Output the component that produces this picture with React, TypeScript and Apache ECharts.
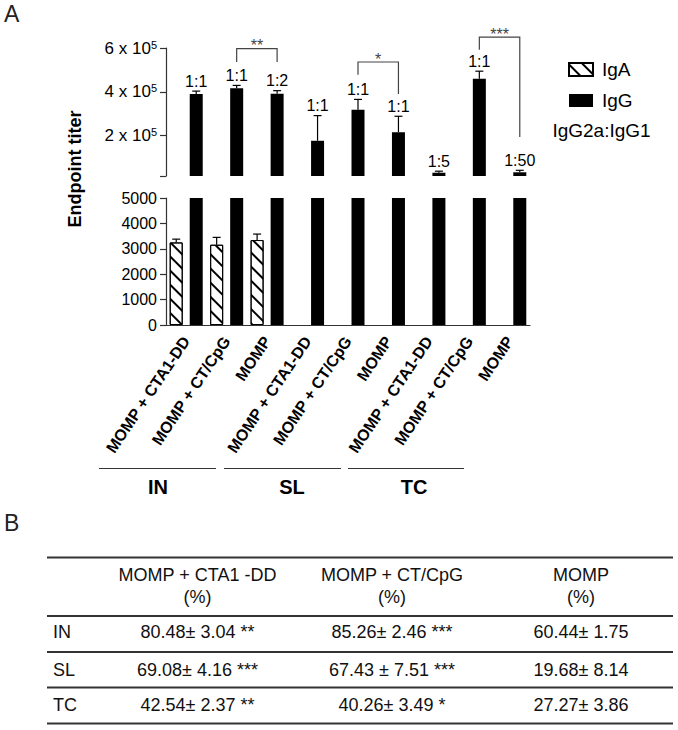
import React, { useEffect, useRef } from "react";
import * as echarts from "echarts";

// ---------- data ----------
const categories = [
  "MOMP + CTA1-DD", "MOMP + CT/CpG", "MOMP",
  "MOMP + CTA1-DD", "MOMP + CT/CpG", "MOMP",
  "MOMP + CTA1-DD", "MOMP + CT/CpG", "MOMP",
];
const groups = ["IN", "SL", "TC"];
const igaMean: (number | null)[] = [3250, 3160, 3345, null, null, null, null, null, null];
const igaErr: (number | null)[] = [130, 290, 235, null, null, null, null, null, null];
const iggMean = [390000, 416000, 391000, 176000, 318000, 215000, 30000, 459000, 32000];
const iggErr = [13000, 13000, 14000, 115000, 47000, 73000, 7000, 35000, 9000];
const ratioLabels = ["1:1", "1:1", "1:2", "1:1", "1:1", "1:1", "1:5", "1:1", "1:50"];
const bracketFrom = [1, 4, 7];
const bracketTo = [2, 5, 8];
const bracketTop = [597000, 536000, 650000];
const bracketLegFrom = [536000, 478000, 592000];
const bracketLegTo = [536000, 390000, 193000];
const bracketMarks = ["**", "*", "***"];
const upperTickValues = [15000, 200000, 400000, 600000];
const upperLabelValues = [200000, 400000, 600000];
const lowerMax = 5000;
const lowerInterval = 1000;
const tableColumns = ["MOMP + CTA1 -DD", "MOMP + CT/CpG", "MOMP"];
const tableUnit = "(%)";
const tableRows = ["IN", "SL", "TC"];
const tableValues = [
  ["80.48± 3.04 **", "85.26± 2.46 ***", "60.44± 1.75"],
  ["69.08± 4.16 ***", "67.43 ± 7.51 ***", "19.68± 8.14"],
  ["42.54± 2.37 **", "40.26± 3.49 *", "27.27± 3.86"],
];

// ---------- layout / style ----------
const FONT = '"Liberation Sans", Arial, Helvetica, sans-serif';
const AXIS = "#333";
const BAR_OFFSET = 10;
const GRID_LEFT = 166;
const GRID_W = 364;
const GROUP_LINE_X = [[99, 216], [224, 341], [348, 464]];
const GROUP_LABEL_X = [158, 292, 414];
const GROUP_LINE_Y = 468.5;
const GROUP_LABEL_Y = 487;
const TABLE_COL_X = [197.5, 392, 581];
const TABLE_ROW_LABEL_X = 53;
const TABLE_HEAD_Y = [575, 597];
const TABLE_ROW_Y = [632, 670, 705];
const TABLE_LINES_Y = [557.5, 616, 652, 687.5, 723.5];
const TABLE_X = [47, 673];

const hatch = {
  symbol: "rect",
  symbolSize: 1,
  dashArrayX: [1, 0],
  dashArrayY: [1.3, 8],
  rotation: Math.PI / 4,
  color: "#000",
  backgroundColor: "#fff",
};

export default function App() {
  const ref = useRef<HTMLDivElement>(null);
  useEffect(() => {
    const chart = echarts.init(ref.current!, null, { renderer: "svg" });

    const errSeries = (xi: number, yi: number, data: any[], offset: number, labels?: string[]) => ({
      type: "custom",
      xAxisIndex: xi,
      yAxisIndex: yi,
      data,
      encode: { x: 0, y: 1 },
      z: 5,
      renderItem: (params: any, api: any) => {
        const i = api.value(0);
        const m = api.value(1);
        const e = api.value(2);
        const b = api.coord([i, m]);
        const t = api.coord([i, m + e]);
        const x = b[0] + offset;
        const children: any[] = [
          { type: "line", shape: { x1: x, y1: b[1], x2: x, y2: t[1] }, style: { stroke: "#000", lineWidth: 1.2 } },
          { type: "line", shape: { x1: x - 4, y1: t[1], x2: x + 4, y2: t[1] }, style: { stroke: "#000", lineWidth: 1.2 } },
        ];
        if (labels) {
          children.push({
            type: "text",
            x,
            y: t[1] - 2,
            style: { text: labels[params.dataIndex], fontSize: 16, fontFamily: FONT, fill: "#000", align: "center", verticalAlign: "bottom" },
          });
        }
        return { type: "group", children };
      },
    });

    const igaErrData = igaMean
      .map((m, i) => (m == null ? null : [i, m, igaErr[i]]))
      .filter((d) => d != null);
    const iggErrData = iggMean.map((m, i) => [i, m, iggErr[i]]);

    const graphics: any[] = [];
    graphics.push({ type: "text", x: 4, y: 14, style: { text: "A", fontSize: 23, fontFamily: FONT, fill: "#222", verticalAlign: "middle" } });
    graphics.push({ type: "text", x: 4, y: 523, style: { text: "B", fontSize: 23, fontFamily: FONT, fill: "#222", verticalAlign: "middle" } });
    graphics.push({
      type: "text", x: 75, y: 169, rotation: Math.PI / 2,
      style: { text: "Endpoint titer", fontSize: 18, fontWeight: "bold", fontFamily: FONT, fill: "#000", align: "center", verticalAlign: "middle" },
    });
    graphics.push({
      type: "text", x: 601.5, y: 130,
      style: { text: "IgG2a:IgG1", fontSize: 19, fontFamily: FONT, fill: "#000", align: "center", verticalAlign: "middle" },
    });
    groups.forEach((g, k) => {
      graphics.push({
        type: "line",
        shape: { x1: GROUP_LINE_X[k][0], y1: GROUP_LINE_Y, x2: GROUP_LINE_X[k][1], y2: GROUP_LINE_Y },
        style: { stroke: AXIS, lineWidth: 1.2 },
      });
      graphics.push({
        type: "text", x: GROUP_LABEL_X[k], y: GROUP_LABEL_Y,
        style: { text: g, fontSize: 20, fontWeight: "bold", fontFamily: FONT, fill: "#000", align: "center", verticalAlign: "middle" },
      });
    });
    // table
    TABLE_LINES_Y.forEach((y, k) => {
      graphics.push({
        type: "line",
        shape: { x1: TABLE_X[0], y1: y, x2: TABLE_X[1], y2: y },
        style: { stroke: "#333", lineWidth: k === 0 || k === TABLE_LINES_Y.length - 1 ? 2 : 1.8 },
      });
    });
    tableColumns.forEach((c, j) => {
      graphics.push({ type: "text", x: TABLE_COL_X[j], y: TABLE_HEAD_Y[0], style: { text: c, fontSize: 18, fontFamily: FONT, fill: "#111", align: "center", verticalAlign: "middle" } });
      graphics.push({ type: "text", x: TABLE_COL_X[j], y: TABLE_HEAD_Y[1], style: { text: tableUnit, fontSize: 18, fontFamily: FONT, fill: "#111", align: "center", verticalAlign: "middle" } });
    });
    tableRows.forEach((r, i) => {
      graphics.push({ type: "text", x: TABLE_ROW_LABEL_X, y: TABLE_ROW_Y[i], style: { text: r, fontSize: 18, fontFamily: FONT, fill: "#111", align: "left", verticalAlign: "middle" } });
      tableValues[i].forEach((v, j) => {
        graphics.push({ type: "text", x: TABLE_COL_X[j], y: TABLE_ROW_Y[i], style: { text: v, fontSize: 18, fontFamily: FONT, fill: "#111", align: "center", verticalAlign: "middle" } });
      });
    });

    const option: any = {
      animation: false,
      textStyle: { fontFamily: FONT },
      legend: {
        orient: "vertical",
        left: 568,
        top: 60,
        padding: 0,
        itemWidth: 24,
        itemHeight: 13,
        itemGap: 12,
        icon: "rect",
        data: ["IgA", "IgG"],
        textStyle: { fontSize: 19, color: "#000", fontFamily: FONT, padding: [0, 0, 0, 4] },
      },
      grid: [
        { left: GRID_LEFT, width: GRID_W, top: 48, height: 128 },
        { left: GRID_LEFT, width: GRID_W, top: 198, height: 127 },
      ],
      xAxis: [
        { type: "category", gridIndex: 0, data: categories, show: false },
        {
          type: "category",
          gridIndex: 1,
          data: categories,
          axisLine: { lineStyle: { color: AXIS, width: 1.2 } },
          axisTick: { alignWithLabel: true, length: 6, lineStyle: { color: AXIS, width: 1.2 } },
          axisLabel: { interval: 0, rotate: 56, margin: 13, fontSize: 16, fontWeight: "bold", color: "#000", fontFamily: FONT },
        },
      ],
      yAxis: [
        {
          type: "value",
          gridIndex: 0,
          min: upperTickValues[0],
          max: upperLabelValues[upperLabelValues.length - 1],
          splitLine: { show: false },
          axisLine: { show: true, lineStyle: { color: AXIS, width: 1.2 } },
          axisTick: { show: true, length: 6, customValues: upperTickValues, lineStyle: { color: AXIS, width: 1.2 } },
          axisLabel: {
            customValues: upperLabelValues,
            margin: 9,
            formatter: (v: number) => `{n|${v / 100000} x 10}{s|5}`,
            rich: {
              n: { fontSize: 17, color: "#000", fontFamily: FONT, lineHeight: 18 },
              s: { fontSize: 11, color: "#000", fontFamily: FONT, verticalAlign: "top", lineHeight: 10 },
            },
          },
        },
        {
          type: "value",
          gridIndex: 1,
          min: 0,
          max: lowerMax,
          interval: lowerInterval,
          splitLine: { show: false },
          axisLine: { show: true, lineStyle: { color: AXIS, width: 1.2 } },
          axisTick: { show: true, length: 6, lineStyle: { color: AXIS, width: 1.2 } },
          axisLabel: { margin: 9, fontSize: 16, color: "#000", fontFamily: FONT, formatter: (v: number) => String(v) },
        },
      ],
      series: [
        {
          name: "IgA", type: "bar", xAxisIndex: 0, yAxisIndex: 0, data: igaMean,
          barWidth: 13, barGap: "54%",
          itemStyle: { color: "#fff", borderColor: "#000", borderWidth: 1, decal: hatch },
        },
        {
          name: "IgG", type: "bar", xAxisIndex: 0, yAxisIndex: 0, data: iggMean,
          barWidth: 13, barGap: "54%",
          itemStyle: { color: "#000" },
        },
        {
          name: "IgA", type: "bar", xAxisIndex: 1, yAxisIndex: 1, data: igaMean,
          barWidth: 13, barGap: "54%",
          itemStyle: { color: "#fff", borderColor: "#000", borderWidth: 1, decal: hatch },
        },
        {
          name: "IgG", type: "bar", xAxisIndex: 1, yAxisIndex: 1, data: iggMean,
          barWidth: 13, barGap: "54%",
          itemStyle: { color: "#000" },
        },
        errSeries(0, 0, iggErrData, BAR_OFFSET, ratioLabels),
        errSeries(1, 1, igaErrData, -BAR_OFFSET),
        {
          type: "custom",
          xAxisIndex: 0,
          yAxisIndex: 0,
          data: bracketFrom.map((f, k) => [f, bracketTo[k], bracketTop[k], bracketLegFrom[k], bracketLegTo[k]]),
          encode: { x: 0, y: 2 },
          z: 6,
          renderItem: (params: any, api: any) => {
            const a = api.value(0);
            const b = api.value(1);
            const top = api.value(2);
            const la = api.value(3);
            const lb = api.value(4);
            const pA = api.coord([a, top]);
            const pB = api.coord([b, top]);
            const yA = api.coord([a, la])[1];
            const yB = api.coord([b, lb])[1];
            const xA = pA[0] + BAR_OFFSET;
            const xB = pB[0] + BAR_OFFSET;
            return {
              type: "group",
              children: [
                {
                  type: "polyline",
                  shape: { points: [[xA, yA], [xA, pA[1]], [xB, pA[1]], [xB, yB]] },
                  style: { stroke: "#444", fill: null, lineWidth: 1.2 },
                },
                {
                  type: "text",
                  x: (xA + xB) / 2,
                  y: pA[1] - 3,
                  style: { text: bracketMarks[params.dataIndex], fontSize: 16, fontFamily: FONT, fill: "#444", align: "center", verticalAlign: "middle" },
                },
              ],
            };
          },
        },
      ],
      graphic: graphics,
    };
    chart.setOption(option);
    return () => chart.dispose();
  }, []);
  return <div ref={ref} style={{ position: "fixed", left: 0, top: 0, width: 678, height: 730, background: "#fff" }} />;
}
